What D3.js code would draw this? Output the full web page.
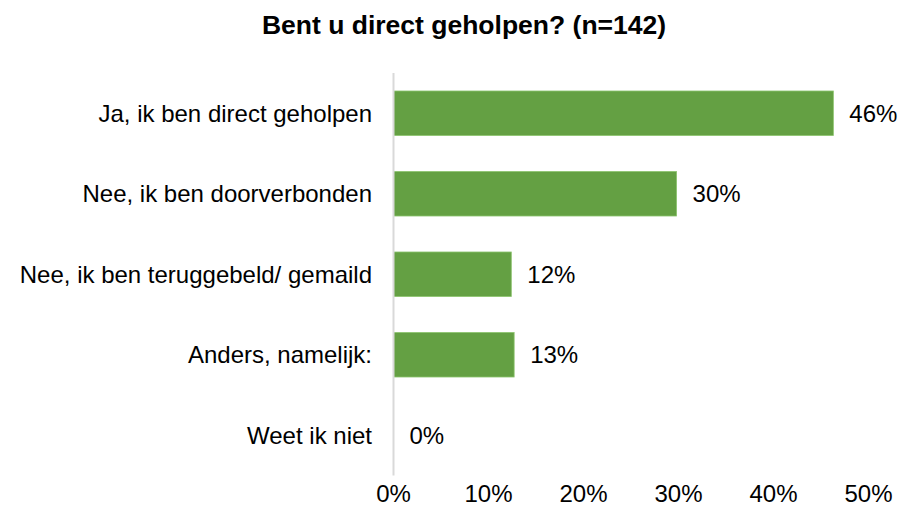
<!DOCTYPE html>
<html><head><meta charset="utf-8">
<script src="https://cdn.jsdelivr.net/npm/d3@7"></script>
<style>body{margin:0;background:#fff}svg{display:block}text{font-family:"Liberation Sans",Arial,sans-serif}</style>
</head><body><svg id="c" width="899" height="512"></svg>
<script>
const title = "Bent u direct geholpen? (n=142)";
const categories = ["Ja, ik ben direct geholpen","Nee, ik ben doorverbonden","Nee, ik ben teruggebeld/ gemaild","Anders, namelijk:","Weet ik niet"];
const values = [46.3, 29.8, 12.4, 12.7, 0];
const valueLabels = ["46%","30%","12%","13%","0%"];
const ticks = [0,10,20,30,40,50];

const svg = d3.select("#c");
const x = d3.scaleLinear().domain([0,50]).range([393.5,868.5]);
const y = d3.scaleBand().domain(categories).range([73,475.5]).paddingInner(0.447).paddingOuter(0.2235);

svg.append("text").attr("x",464).attr("y",34).attr("text-anchor","middle")
  .attr("font-size",26.5).attr("font-weight","bold").attr("fill","#000").text(title);

svg.selectAll("rect.bar").data(values).join("rect").attr("class","bar")
  .attr("x",x(0)).attr("y",(d,i)=>y(categories[i]))
  .attr("width",d=>x(d)-x(0)).attr("height",y.bandwidth())
  .attr("fill","#64a043").attr("stroke","#8cc46e").attr("stroke-width",d=>d>0?0.8:0);

svg.append("line").attr("x1",x(0)).attr("x2",x(0)).attr("y1",73).attr("y2",475.5)
  .attr("stroke","#d9d9d9").attr("stroke-width",2);

svg.selectAll("text.cat").data(categories).join("text").attr("class","cat")
  .attr("x",372).attr("y",d=>y(d)+y.bandwidth()/2).attr("dy","0.36em")
  .attr("text-anchor","end").attr("font-size",24).attr("fill","#000").text(d=>d);

svg.selectAll("text.val").data(values).join("text").attr("class","val")
  .attr("x",d=>x(d)+16).attr("y",(d,i)=>y(categories[i])+y.bandwidth()/2).attr("dy","0.36em")
  .attr("font-size",24).attr("fill","#000").text((d,i)=>valueLabels[i]);

svg.selectAll("text.tick").data(ticks).join("text").attr("class","tick")
  .attr("x",d=>x(d)).attr("y",502).attr("text-anchor","middle")
  .attr("font-size",24).attr("fill","#000").text(d=>d+"%");
</script></body></html>
